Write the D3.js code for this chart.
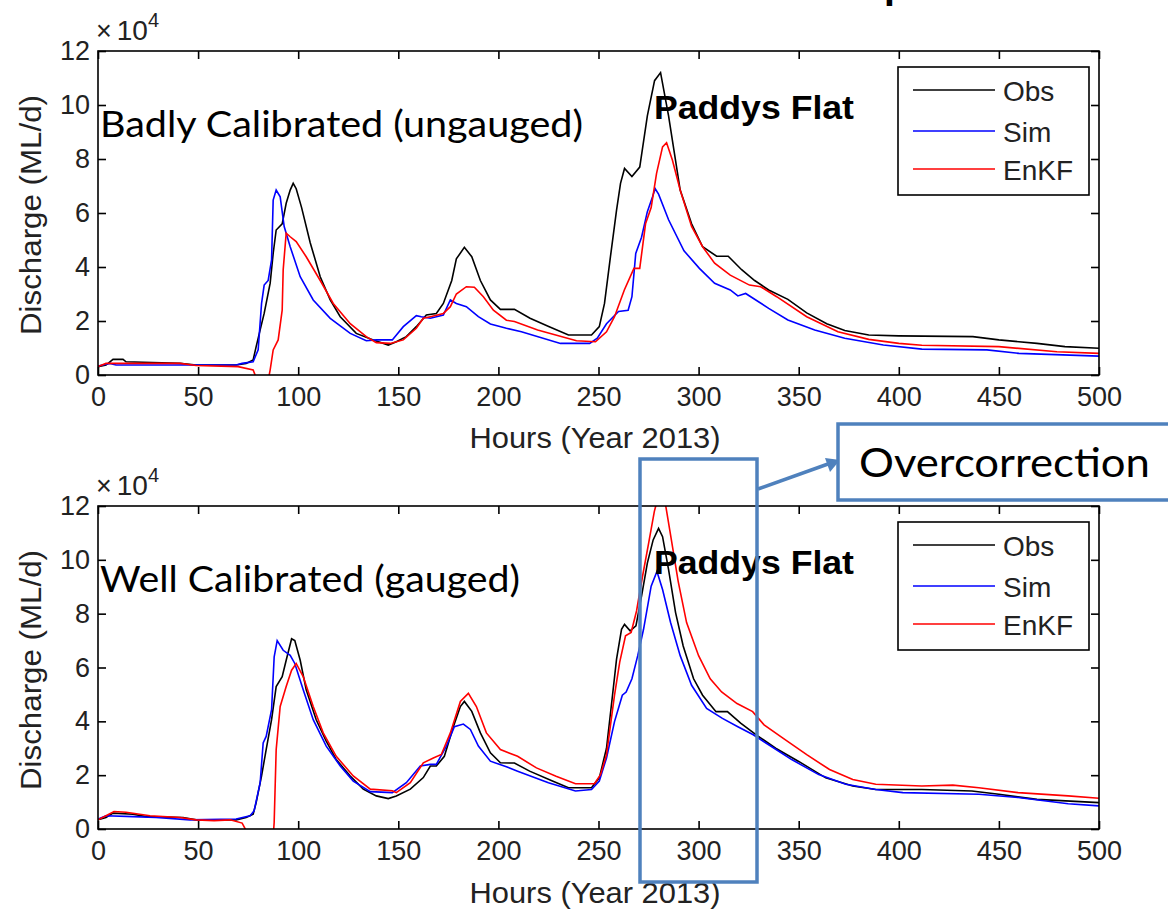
<!DOCTYPE html>
<html><head><meta charset="utf-8">
<script src="https://cdn.jsdelivr.net/npm/d3@7"></script>
<style>html,body{margin:0;padding:0;background:#fff;overflow:hidden}</style>
</head><body><svg id="c" width="1168" height="910" xmlns="http://www.w3.org/2000/svg"></svg>
<script>
// ---------------- DATA (discharge in units of 1e4 ML/d, hour of year 2013 window) ----------------
const xTicks = [0, 50, 100, 150, 200, 250, 300, 350, 400, 450, 500];
const yTicks = [0, 2, 4, 6, 8, 10, 12];
const seriesNames = ["Obs", "Sim", "EnKF"];
const panelLabels = ["Badly Calibrated (ungauged)", "Well Calibrated (gauged)"];
const stationName = "Paddys Flat";
const xAxisTitle = "Hours (Year 2013)";
const yAxisTitle = "Discharge (ML/d)";
const calloutText = "Overcorrection";

const topObs = [[0,0.31],[4,0.37],[7.5,0.58],[12.5,0.58],[14,0.49],[22.5,0.47],[41,0.43],[49,0.37],[69,0.37],[74,0.43],[77.5,0.56],[79,1.05],[81,1.67],[83,2.28],[86,3.4],[87.5,4.5],[89,5.37],[92,5.6],[94,6.36],[96,6.85],[97.5,7.1],[99,6.9],[101.7,6.2],[106,4.9],[111,3.64],[116,2.78],[121,2.16],[129,1.54],[137.5,1.3],[145,1.11],[149,1.23],[154,1.42],[159,1.79],[164,2.22],[169,2.28],[172.5,2.65],[176.7,3.5],[179,4.3],[183,4.73],[186.7,4.38],[191,3.5],[196,2.78],[201,2.43],[208,2.43],[215.8,2.1],[225.4,1.79],[235,1.48],[246.5,1.48],[250.4,1.79],[253,2.65],[256,4.4],[259,6.1],[261,7.1],[263,7.65],[266.7,7.35],[270.6,7.7],[274.4,9.6],[278,10.9],[281,11.2],[285,9.6],[290.8,6.85],[296.5,5.6],[302,4.75],[309,4.4],[314.8,4.4],[321.5,3.9],[328,3.5],[335,3.15],[344.6,2.8],[354,2.3],[364,1.9],[373,1.65],[385,1.48],[400,1.45],[437,1.42],[450,1.3],[469,1.17],[483,1.05],[500,0.99]];
const topSim = [[0,0.33],[6,0.43],[9,0.37],[69,0.37],[72,0.43],[77.5,0.49],[80,0.93],[81.7,2.65],[83,3.33],[85,3.5],[86.7,4.26],[87.5,6.48],[89,6.85],[91,6.6],[93,5.5],[96,4.75],[101,3.64],[107.5,2.78],[116,2.1],[126,1.54],[134,1.27],[139,1.3],[147,1.3],[152.5,1.79],[159,2.2],[161.5,2.16],[166,2.1],[172.5,2.22],[176,2.78],[179,2.65],[184,2.53],[190,2.16],[196,1.89],[204,1.73],[211.5,1.6],[231,1.17],[245.6,1.17],[249.4,1.36],[254,1.9],[260,2.35],[264.8,2.4],[266.7,2.9],[268.6,4.5],[271.5,5.1],[274.4,6.05],[277,6.6],[278.3,6.9],[280,6.7],[285,5.75],[292.7,4.6],[300.4,3.95],[308,3.4],[315.8,3.15],[319.6,2.93],[323.5,3.02],[335,2.47],[344.6,2.04],[358,1.67],[373,1.36],[392.3,1.11],[411.5,0.96],[444,0.93],[460,0.8],[500,0.7]];
const topEnKF = [[0,0.31],[4,0.43],[41,0.43],[49,0.35],[70,0.31],[77.5,0.19],[80,-0.3],[84,-0.6],[86,0.19],[87.5,0.93],[90,1.3],[92,2.4],[92.5,3.9],[94,5.25],[96,5.12],[99,4.94],[104,4.38],[111,3.5],[117.5,2.65],[126,1.9],[134,1.42],[139,1.2],[146,1.17],[152.5,1.3],[159,1.73],[162.5,2.1],[166,2.16],[172.5,2.28],[176,2.53],[179,3.0],[184,3.27],[188,3.25],[192.5,2.9],[197.5,2.4],[204,2.03],[208,1.98],[219.6,1.67],[239,1.27],[248.5,1.23],[254,1.6],[258,2.16],[262.9,3.15],[267.7,3.95],[270.6,3.95],[273.5,5.6],[276.3,6.2],[279,7.47],[282,8.45],[284,8.6],[286.9,7.96],[290.8,6.85],[296.5,5.5],[302,4.75],[308,4.14],[315.8,3.7],[325.4,3.33],[331,3.27],[339,2.9],[354,2.16],[369.6,1.6],[385,1.32],[400,1.17],[411.5,1.1],[450,1.05],[479,0.86],[500,0.8]];

const botObs = [[0,0.34],[4,0.43],[7.5,0.59],[17.5,0.55],[24,0.46],[42.5,0.43],[49,0.34],[69,0.34],[74,0.43],[77.5,0.55],[79,0.98],[81.7,1.97],[84,2.95],[86.7,4.06],[89,5.29],[92,5.66],[94,6.27],[96.7,7.07],[98.3,7.0],[101,6.27],[104,5.17],[109,4.06],[114,3.26],[119,2.58],[126,1.97],[132.5,1.48],[139,1.23],[145,1.13],[149,1.23],[156,1.48],[162.5,1.91],[166,2.34],[169,2.34],[173,2.7],[177.5,3.8],[181,4.55],[183,4.74],[186.7,4.37],[191,3.57],[196,2.83],[201,2.46],[208,2.45],[215.6,2.15],[227,1.78],[235,1.53],[246.5,1.53],[250.4,1.9],[254,3.0],[257,4.97],[259,6.3],[261.5,7.42],[263,7.6],[265.8,7.36],[268.7,7.55],[271.5,8.65],[274.4,9.88],[277.3,10.74],[280,11.17],[282,10.86],[285,9.64],[288.5,8.04],[292.3,6.8],[297.5,5.58],[302,4.97],[308.7,4.36],[314.4,4.36],[321,3.93],[328.8,3.5],[338.5,3.0],[350,2.51],[363.5,1.9],[377,1.6],[388.5,1.47],[411.5,1.47],[436.5,1.41],[450,1.29],[469,1.1],[500,0.98]];
const botSim = [[0,0.37],[4,0.49],[17.5,0.46],[29,0.43],[46,0.34],[69,0.37],[76,0.49],[78,0.68],[81,1.72],[82.5,3.2],[84,3.44],[86.7,4.43],[88,6.4],[89.5,7.0],[92.5,6.64],[96,6.45],[98.3,6.15],[102.5,5.17],[107.5,4.06],[114,3.08],[121,2.34],[127.5,1.78],[136,1.39],[147,1.35],[154,1.72],[161,2.34],[166,2.4],[169,2.4],[174,3.08],[178,3.8],[182.5,3.9],[186,3.7],[190,3.08],[196,2.52],[204,2.31],[209.6,2.15],[225,1.72],[238.5,1.41],[246.5,1.47],[250.4,1.78],[254,2.64],[258,3.99],[261.9,4.97],[263.8,5.09],[266.7,5.58],[269.6,6.44],[272.5,7.42],[276.3,9.02],[279.2,9.57],[282,8.9],[286,7.67],[290.8,6.44],[296.5,5.34],[304,4.48],[311.9,4.11],[319.6,3.8],[327.3,3.5],[335,3.13],[346.5,2.58],[360,2.02],[373.5,1.66],[388.5,1.47],[402,1.35],[440,1.29],[459.6,1.17],[484.6,0.94],[500,0.86]];
const botEnKF = [[0,0.34],[4,0.49],[8,0.65],[14,0.62],[26,0.49],[41,0.43],[49,0.34],[58,0.31],[66,0.34],[72,0.22],[75,-0.2],[80,-0.6],[87.5,-0.3],[88,0.25],[89,2.95],[91,4.55],[94,5.29],[96.7,5.9],[99,6.15],[102.5,5.66],[107.5,4.55],[112.5,3.57],[119,2.7],[127.5,1.97],[136,1.48],[147,1.42],[149,1.35],[156,1.72],[162.5,2.46],[167.5,2.64],[171.5,2.77],[176,3.57],[181,4.74],[185,5.04],[189,4.55],[194,3.57],[201,2.95],[209.6,2.7],[219,2.27],[228.8,1.96],[238.5,1.68],[248,1.68],[251,2.02],[254,2.76],[258,4.97],[260.6,6.2],[263.5,7.18],[266.3,7.3],[269,8.1],[272,9.39],[275,10.6],[277.9,11.8],[280,12.4],[282,12.6],[283.6,12.0],[285.6,11.1],[289.8,9.2],[294,7.67],[300,6.44],[305.8,5.58],[311.5,5.09],[319.2,4.66],[327,4.36],[332.7,3.87],[342.3,3.37],[354,2.76],[365.4,2.21],[377,1.84],[388.5,1.66],[411.5,1.6],[427,1.63],[440,1.53],[459.6,1.35],[484.6,1.23],[500,1.14]];

// ---------------- DRAWING ----------------
const svg = d3.select("#c");
const X0 = 98, X1 = 1099;
const colors = ["#000000", "#0000ff", "#ff0000"];
const tickFont = "'Liberation Sans', Arial, Helvetica, sans-serif";
const calFont = "Lato, 'Open Sans', sans-serif";
const OFF = 455;
const panels = [
  {top: 51, bottom: 375, label: panelLabels[0], labelW: 483, series: [topObs, topSim, topEnKF]},
  {top: 51 + OFF, bottom: 375 + OFF - 1, label: panelLabels[1], labelW: 420, series: [botObs, botSim, botEnKF]}
];

svg.append("rect").attr("width", 1168).attr("height", 910).attr("fill", "#fff");

// Cut-off slide title (only a descender is visible at the top edge)
svg.append("text").attr("x", 884).attr("y", -1).attr("font-family", calFont).attr("font-weight", "bold")
  .attr("font-size", 44).attr("fill", "#000").text("p");

panels.forEach((p, i) => {
  const dy = i * OFF;
  const x = d3.scaleLinear().domain([0, 500]).range([X0, X1]);
  const y = d3.scaleLinear().domain([0, 12]).range([p.bottom, p.top]);
  const g = svg.append("g");

  const clipId = "clip" + i;
  svg.append("clipPath").attr("id", clipId).append("rect")
    .attr("x", X0).attr("y", p.top).attr("width", X1 - X0).attr("height", p.bottom - p.top);

  const line = d3.line().x(d => x(d[0])).y(d => y(d[1]));
  const lg = g.append("g").attr("clip-path", `url(#${clipId})`);
  p.series.forEach((s, k) => {
    lg.append("path").attr("d", line(s)).attr("fill", "none")
      .attr("stroke", colors[k]).attr("stroke-width", 1.6).attr("stroke-linejoin", "miter");
  });

  const styleAxis = sel => {
    sel.select(".domain").remove();
    sel.attr("font-family", tickFont).attr("font-size", 27);
    sel.selectAll(".tick line").attr("stroke", "#000").attr("stroke-width", 1.6);
    sel.selectAll(".tick text").attr("fill", "#222");
  };
  g.append("g").attr("transform", `translate(0,${p.bottom})`)
    .call(d3.axisBottom(x).tickValues(xTicks).tickSize(-8).tickPadding(12).tickFormat(d3.format("d")))
    .call(styleAxis);
  g.append("g").attr("transform", `translate(0,${p.top})`)
    .call(d3.axisTop(x).tickValues(xTicks).tickSize(-8).tickFormat(""))
    .call(styleAxis);
  g.append("g").attr("transform", `translate(${X0},0)`)
    .call(d3.axisLeft(y).tickValues(yTicks).tickSize(-8).tickPadding(8).tickFormat(d3.format("d")))
    .call(styleAxis);
  g.append("g").attr("transform", `translate(${X1},0)`)
    .call(d3.axisRight(y).tickValues(yTicks).tickSize(-8).tickFormat(""))
    .call(styleAxis);

  // frame
  g.append("rect").attr("x", X0).attr("y", p.top).attr("width", X1 - X0).attr("height", p.bottom - p.top)
    .attr("fill", "none").attr("stroke", "#000").attr("stroke-width", 1.6);

  // exponent label  x 10^4
  const ex = g.append("text").attr("x", 96).attr("y", 40 + dy).attr("font-family", tickFont)
    .attr("font-size", 27).attr("fill", "#222");
  ex.append("tspan").text("×");
  ex.append("tspan").attr("dx", 5).attr("font-size", 28).text("10");
  ex.append("tspan").attr("dy", -13).attr("font-size", 20).text("4");

  // axis titles
  g.append("text").attr("x", 595).attr("y", 448 + dy).attr("text-anchor", "middle")
    .attr("font-family", tickFont).attr("font-size", 30).attr("fill", "#222")
    .attr("textLength", 251).attr("lengthAdjust", "spacingAndGlyphs").text(xAxisTitle);
  g.append("text").attr("transform", `translate(41,${215 + dy}) rotate(-90)`).attr("text-anchor", "middle")
    .attr("font-family", tickFont).attr("font-size", 30).attr("fill", "#222")
    .attr("textLength", 240).attr("lengthAdjust", "spacingAndGlyphs").text(yAxisTitle);

  // panel label (slide annotation)
  g.append("text").attr("x", 100).attr("y", 137 + dy).attr("font-family", calFont)
    .attr("font-size", 36).attr("fill", "#000")
    .attr("textLength", p.labelW).attr("lengthAdjust", "spacingAndGlyphs").text(p.label);

  // station name
  g.append("text").attr("x", 654).attr("y", 119 + dy).attr("font-family", tickFont)
    .attr("font-weight", "bold").attr("font-size", 33).attr("fill", "#000")
    .attr("textLength", 200).attr("lengthAdjust", "spacingAndGlyphs").text(stationName);

  // legend
  const lgX = 898, lgY = 67 + dy, lgW = 191, lgH = 128;
  g.append("rect").attr("x", lgX).attr("y", lgY).attr("width", lgW).attr("height", lgH)
    .attr("fill", "#fff").attr("stroke", "#000").attr("stroke-width", 1.6);
  const rowY = [90, 131, 169];
  seriesNames.forEach((n, k) => {
    g.append("line").attr("x1", 913).attr("x2", 995).attr("y1", rowY[k] + dy).attr("y2", rowY[k] + dy)
      .attr("stroke", colors[k]).attr("stroke-width", 1.6);
    g.append("text").attr("x", 1003).attr("y", rowY[k] + dy + 11).attr("font-family", tickFont)
      .attr("font-size", 28).attr("fill", "#222").text(n);
  });
});

// ---------------- Overcorrection annotation ----------------
const blue = "#4f81bd";
svg.append("rect").attr("x", 640).attr("y", 459).attr("width", 117).attr("height", 423)
  .attr("fill", "none").attr("stroke", blue).attr("stroke-width", 3.5);
svg.append("line").attr("x1", 758).attr("y1", 489).attr("x2", 828).attr("y2", 464)
  .attr("stroke", blue).attr("stroke-width", 3.5);
svg.append("path").attr("d", "M840,460 L825,458 L830,472 Z").attr("fill", blue);
svg.append("rect").attr("x", 838).attr("y", 424).attr("width", 340).attr("height", 76)
  .attr("fill", "#fff").attr("stroke", blue).attr("stroke-width", 3.5);
svg.append("text").attr("x", 859).attr("y", 477).attr("font-family", calFont).attr("font-size", 40)
  .attr("fill", "#000").attr("textLength", 291).attr("lengthAdjust", "spacingAndGlyphs").text(calloutText);
</script>
</body></html>
